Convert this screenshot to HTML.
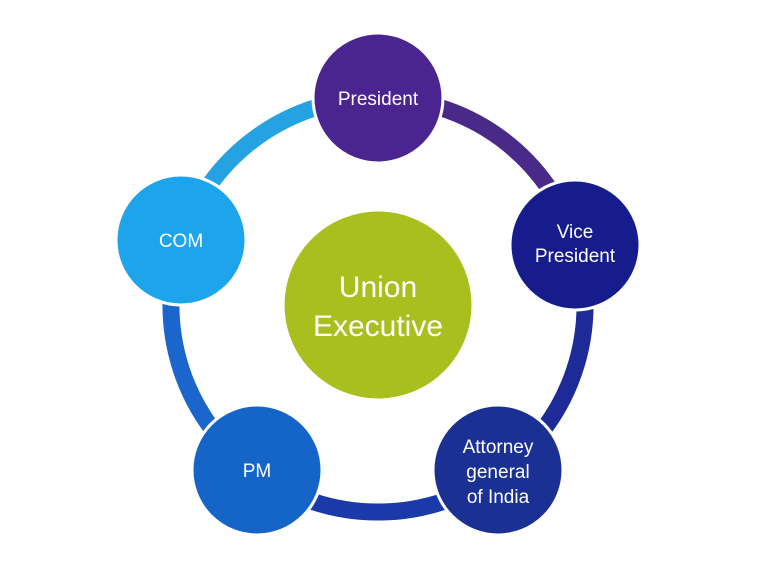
<!DOCTYPE html>
<html><head><meta charset="utf-8"><style>
html,body{margin:0;padding:0;background:#fff;width:768px;height:576px;overflow:hidden}
svg{display:block}
text{font-family:"Liberation Sans",sans-serif;fill:#fff;text-anchor:middle}
</style></head><body>
<svg width="768" height="576" viewBox="0 0 768 576">
<g fill="none" stroke-width="17">
<path d="M378,98 A207,207 0 0 1 576,244.5" stroke="#4a2a88"/>
<path d="M576,244.5 A207,207 0 0 1 499.7,472.5" stroke="#1e2a98"/>
<path d="M499.7,472.5 A207,207 0 0 1 256.3,472.5" stroke="#1a3aaa"/>
<path d="M256.3,472.5 A207,207 0 0 1 181.1,241" stroke="#1a66cc"/>
<path d="M181.1,241 A207,207 0 0 1 378,98" stroke="#24a2e2"/>
</g>
<g stroke="#fff" stroke-width="3">
<circle cx="378" cy="305" r="95" fill="#a8bf1e"/>
<circle cx="378" cy="98" r="65" fill="#4a2590"/>
<circle cx="575" cy="245" r="65" fill="#161c8c"/>
<circle cx="498" cy="470" r="65" fill="#1a3092"/>
<circle cx="257" cy="470" r="65" fill="#1565c8"/>
<circle cx="181" cy="240" r="65" fill="#1ea4ea"/>
</g>
<text x="378" y="297" font-size="30">Union</text>
<text x="378" y="336" font-size="30">Executive</text>
<text x="378" y="105" font-size="19">President</text>
<text x="575" y="238" font-size="19">Vice</text>
<text x="575" y="262" font-size="19">President</text>
<text x="498" y="453" font-size="19">Attorney</text>
<text x="498" y="478" font-size="19">general</text>
<text x="498" y="503" font-size="19">of India</text>
<text x="257" y="477" font-size="19">PM</text>
<text x="181" y="247" font-size="19">COM</text>
</svg>
</body></html>
